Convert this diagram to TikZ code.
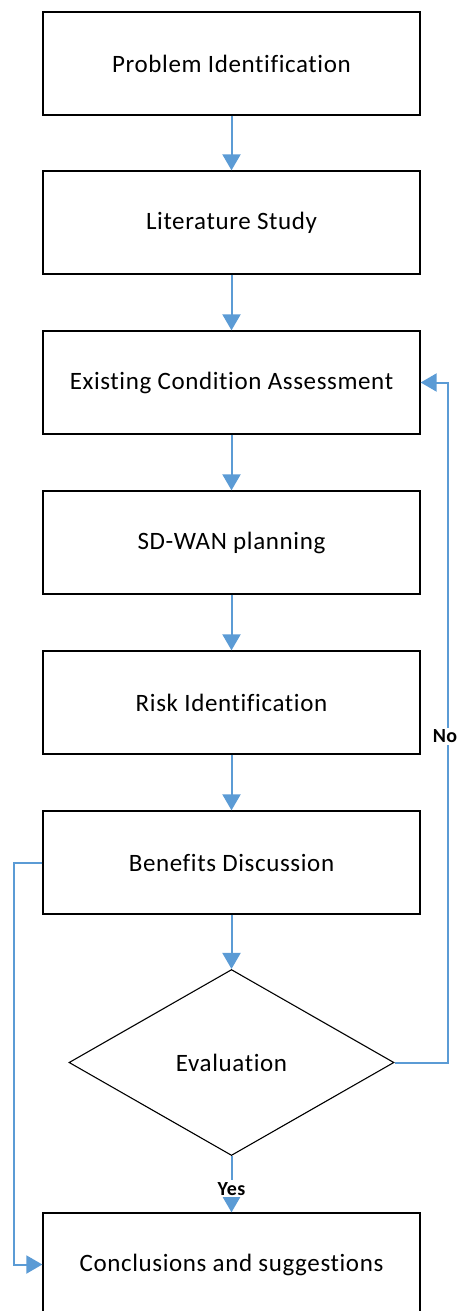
\documentclass[tikz,border=0pt]{standalone}
\usepackage{fontspec}
\setmainfont{Carlito}[LetterSpace=2.5,Ligatures=NoCommon]
\usetikzlibrary{shapes.geometric,arrows.meta}
\definecolor{flowblue}{RGB}{91,155,213}

\begin{document}
\begin{tikzpicture}[x=1pt,y=1pt,
  stepbox/.style={draw=black,line width=1.3pt,minimum width=377pt,minimum height=103pt,
    inner sep=0pt,font=\fontsize{25}{30}\selectfont},
  decision/.style={draw=black,line width=1.1pt,diamond,minimum width=325pt,minimum height=186pt,
    inner sep=0pt,font=\fontsize{25}{30}\selectfont},
  flow/.style={draw=flowblue,line width=2pt,-{Triangle[length=16pt,width=18pt]}},
  lbl/.style={font=\fontsize{20}{24}\selectfont\bfseries,fill=white,inner sep=2pt}]

\useasboundingbox (0,0) rectangle (459,-1311);

% process steps
\node[stepbox] (s1) at (231.5,-63.5)  {Problem Identification};
\node[stepbox] (s2) at (231.5,-222.5) {Literature Study};
\node[stepbox] (s3) at (231.5,-382.5) {Existing Condition Assessment};
\node[stepbox] (s4) at (231.5,-542.5) {SD-WAN planning};
\node[stepbox] (s5) at (231.5,-702.5) {Risk Identification};
\node[stepbox] (s6) at (231.5,-862.5) {Benefits Discussion};
\node[decision] (ev) at (231.5,-1062.5) {Evaluation};
\node[stepbox] (s7) at (231.5,-1264.5) {Conclusions and suggestions};

% main flow
\draw[flow] (s1.south) -- (s2.north);
\draw[flow] (s2.south) -- (s3.north);
\draw[flow] (s3.south) -- (s4.north);
\draw[flow] (s4.south) -- (s5.north);
\draw[flow] (s5.south) -- (s6.north);
\draw[flow] (s6.south) -- (ev.north);
\draw[flow] (ev.south) -- node[lbl,pos=0.58] {Yes} (s7.north);

% feedback loop when evaluation fails
\coordinate (noA) at (448,-1062.5);
\coordinate (noB) at (448,-382.5);
\draw[flow] (ev.east) -- (noA) -- node[lbl,pos=0.48,xshift=-3pt] {No} (noB) -- (s3.east);

% shortcut from benefits to conclusions
\coordinate (skA) at (14,-862.5);
\coordinate (skB) at (14,-1264.5);
\draw[flow] (s6.west) -- (skA) -- (skB) -- (s7.west);
\end{tikzpicture}
\end{document}
